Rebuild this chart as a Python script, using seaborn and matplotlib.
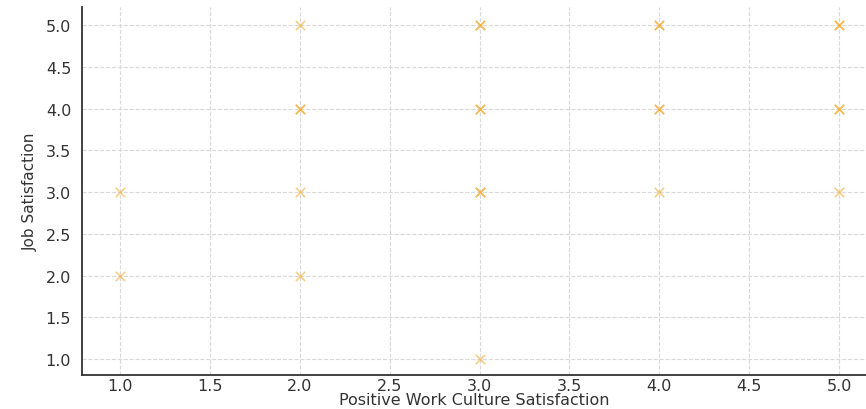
import seaborn as sns
import matplotlib.pyplot as plt
import pandas as pd

# Survey responses (repeated pairs drawn on top of each other look darker)
culture = [1, 1, 2, 2, 2, 2, 2, 3, 3, 3, 3, 3, 3, 3, 4, 4, 4, 4, 4, 5, 5, 5, 5, 5]
job_sat = [3, 2, 5, 4, 4, 3, 2, 5, 5, 4, 4, 3, 3, 1, 5, 5, 4, 4, 3, 5, 5, 4, 4, 3]

df = pd.DataFrame({
    'Positive Work Culture Satisfaction': culture,
    'Job Satisfaction': job_sat,
})

sns.set_style("white")
plt.rcParams['font.family'] = ['DejaVu Sans']

fig = plt.figure(figsize=(8.66, 4.10), dpi=100)
ax = fig.add_axes([0.095, 0.083, 0.905, 0.897])

sns.scatterplot(
    data=df,
    x='Positive Work Culture Satisfaction',
    y='Job Satisfaction',
    marker='x',
    color='#f5a623',
    alpha=0.55,
    s=45,
    linewidth=1.2,
    ax=ax,
)

ax.set_xlim(0.79, 5.15)
ax.set_ylim(0.81, 5.215)
ax.set_xticks([1.0, 1.5, 2.0, 2.5, 3.0, 3.5, 4.0, 4.5, 5.0])
ax.set_yticks([1.0, 1.5, 2.0, 2.5, 3.0, 3.5, 4.0, 4.5, 5.0])
ax.xaxis.set_major_formatter(plt.FormatStrFormatter('%.1f'))
ax.yaxis.set_major_formatter(plt.FormatStrFormatter('%.1f'))

ax.grid(True, linestyle='--', color='#d9d9d9', linewidth=0.8)
ax.set_axisbelow(True)
ax.tick_params(direction='in', length=4, width=1, colors='#333333', labelsize=11.5)
ax.tick_params(axis='x', pad=2)
ax.tick_params(axis='y', pad=8)

for side in ['top', 'right']:
    ax.spines[side].set_visible(False)
for side in ['left', 'bottom']:
    ax.spines[side].set_color('#333333')
    ax.spines[side].set_linewidth(1.3)

ax.set_xlabel('Positive Work Culture Satisfaction', fontsize=11.5, color='#333333', va='top')
ax.xaxis.set_label_coords(0.5, -0.045)
ax.set_ylabel('Job Satisfaction', fontsize=11, color='#333333', labelpad=6)

plt.savefig('out.png', dpi=100)
plt.close()
